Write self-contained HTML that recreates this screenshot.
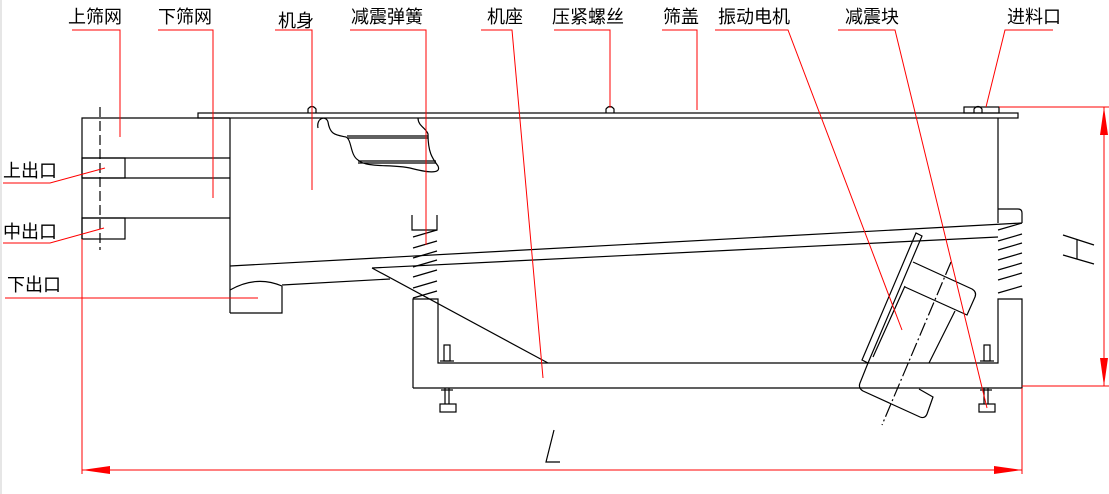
<!DOCTYPE html>
<html><head><meta charset="utf-8"><style>
html,body{margin:0;padding:0;background:#fff;}
svg{display:block}
text{font-family:"Liberation Sans","Noto Sans CJK SC",sans-serif;font-size:18px;fill:#000}
</style></head><body>
<svg width="1109" height="494" viewBox="0 0 1109 494" xmlns="http://www.w3.org/2000/svg">
<rect x="0" y="0" width="1109" height="494" fill="#fff"/>
<line x1="1" y1="0" x2="1" y2="494" stroke="#ccc" stroke-width="1"/>
<g fill="none" stroke="#000" stroke-width="1.2">
<!-- cover -->
<rect x="198" y="113" width="820" height="5"/>
<!-- left box -->
<polyline points="82,239 82,118 230,118"/>
<line x1="82" y1="158" x2="230" y2="158"/>
<line x1="82" y1="178" x2="230" y2="178"/>
<line x1="82" y1="218" x2="230" y2="218"/>
<rect x="82" y="158" width="43" height="20"/>
<rect x="82" y="218" width="43" height="21"/>
<line x1="100" y1="107" x2="100" y2="250" stroke-dasharray="10,4"/>
<!-- body -->
<line x1="230" y1="118" x2="230" y2="313"/>
<line x1="998" y1="118" x2="998" y2="223"/>
<path d="M230,313 L282,313 L282,286 M230,290 Q256,275 282,286"/>
<line x1="230" y1="266" x2="1022" y2="223"/>
<line x1="372" y1="268" x2="998" y2="237"/>
<line x1="282" y1="285" x2="390" y2="279"/>
<line x1="372" y1="268" x2="548" y2="363"/>
<path d="M998,209 L1018,209 Q1022,209 1022,213 L1022,223"/>
<!-- cutaway -->
<path d="M318,128 C316,118 326,115 328,122 C330,135 336,135 346,137 C352,140 350,155 358,160 C366,168 390,164 410,168 C425,172 442,175 438,166 C432,158 428,152 428,134 C426,128 418,126 418,118"/>
<line x1="347" y1="136" x2="428" y2="136"/><line x1="347" y1="138" x2="428" y2="138"/>
<line x1="358" y1="161" x2="436" y2="161"/><line x1="358" y1="163" x2="436" y2="163"/>
<!-- left spring -->
<polyline points="412,215 412,230 437,230 437,215"/>
<g>
<line x1="413" y1="237" x2="437" y2="230"/><line x1="413" y1="248" x2="437" y2="241"/>
<line x1="413" y1="258" x2="437" y2="251"/><line x1="413" y1="267" x2="437" y2="260"/>
<line x1="413" y1="277" x2="437" y2="270"/><line x1="413" y1="288" x2="437" y2="281"/>
<line x1="413" y1="298" x2="437" y2="291"/>
</g>
<!-- right spring -->
<g>
<line x1="998" y1="230" x2="1022" y2="223"/><line x1="998" y1="241" x2="1022" y2="234"/>
<line x1="998" y1="250" x2="1022" y2="243"/><line x1="998" y1="260" x2="1022" y2="253"/>
<line x1="998" y1="270" x2="1022" y2="263"/><line x1="998" y1="280" x2="1022" y2="273"/>
<line x1="998" y1="293" x2="1022" y2="286"/>
</g>
<!-- base -->
<polyline points="413,388 413,299 438,299 438,363 998,363 998,299 1022,299 1022,388 413,388"/>
<!-- inner bolts -->
<rect x="444" y="345" width="6" height="16"/><line x1="440" y1="361" x2="454" y2="361"/>
<rect x="984" y="345" width="6" height="16"/><line x1="980" y1="361" x2="994" y2="361"/>
<!-- feet -->
<line x1="445" y1="388" x2="445" y2="404"/><line x1="449" y1="388" x2="449" y2="404"/><line x1="441" y1="390" x2="453" y2="390"/>
<rect x="440" y="404" width="16" height="8"/>
<line x1="984" y1="388" x2="984" y2="404"/><line x1="988" y1="388" x2="988" y2="404"/><line x1="980" y1="390" x2="992" y2="390"/>
<rect x="979" y="404" width="16" height="8"/>
<!-- motor -->
<polygon points="862,360 916,233 922,236 868,363"/>
<line x1="873" y1="357" x2="905" y2="286"/>
<path d="M913,262 L972,289 Q977,292 975,297 L967,315 L905,287"/>
<line x1="955" y1="311" x2="929" y2="363"/>
<path d="M868,363 L860,383 Q858,388 863,391 L920,417 Q925,419 927,414 L933,397 L919,389"/>
<line x1="951" y1="262" x2="882" y2="425" stroke-dasharray="14,3,2,3"/>
<!-- top bolts -->
<path d="M308,113 L308,109 Q312,104 316,109 L316,113"/>
<path d="M606,113 L606,109 Q610,104 614,109 L614,113"/>
<rect x="964" y="107" width="35" height="6"/>
<path d="M974,113 L974,109 Q978,104 982,109 L982,113"/>
<!-- L & H letters -->
<polyline points="554,430 546,462 560,462"/>
<line x1="1063" y1="235" x2="1094" y2="245"/><line x1="1063" y1="255" x2="1094" y2="264"/><line x1="1077" y1="239" x2="1077" y2="259"/>
</g>
<!-- red leaders -->
<g fill="none" stroke="#f00" stroke-width="1">
<polyline points="72,30 120,30 120,137"/>
<polyline points="158,30 213,30 213,198"/>
<polyline points="275,30 312,30 312,190"/>
<polyline points="350,30 426,30 426,245"/>
<polyline points="481,30 512,30 543,378"/>
<polyline points="554,30 610,30 610,108"/>
<polyline points="662,30 697,30 697,110"/>
<polyline points="715,30 788,30 902,330"/>
<polyline points="838,30 895,30 987,408"/>
<polyline points="1053,30 1005,30 986,107"/>
<polyline points="3,183 50,183 105,168"/>
<polyline points="3,243 50,243 104,228"/>
<line x1="5" y1="298" x2="258" y2="298"/>
<!-- dims -->
<line x1="999" y1="107" x2="1109" y2="107"/>
<line x1="1022" y1="386" x2="1109" y2="386"/>
<line x1="1104" y1="107" x2="1104" y2="386"/>
<line x1="82" y1="239" x2="82" y2="474"/>
<line x1="1022" y1="388" x2="1022" y2="474"/>
<line x1="82" y1="470" x2="1022" y2="470"/>
</g>
<g fill="#f00">
<polygon points="1104,107 1100,135 1108,135"/>
<polygon points="1104,386 1100,358 1108,358"/>
<polygon points="82,470 110,466 110,474"/>
<polygon points="1022,470 994,466 994,474"/>
</g>
<text x="68" y="23">上筛网</text>
<text x="158" y="23">下筛网</text>
<text x="278" y="27">机身</text>
<text x="351" y="23">减震弹簧</text>
<text x="487" y="23">机座</text>
<text x="552" y="23">压紧螺丝</text>
<text x="663" y="23">筛盖</text>
<text x="718" y="23">振动电机</text>
<text x="845" y="23">减震块</text>
<text x="1007" y="23">进料口</text>
<text x="3" y="177">上出口</text>
<text x="3" y="238">中出口</text>
<text x="7" y="291">下出口</text>
</svg>
</body></html>
